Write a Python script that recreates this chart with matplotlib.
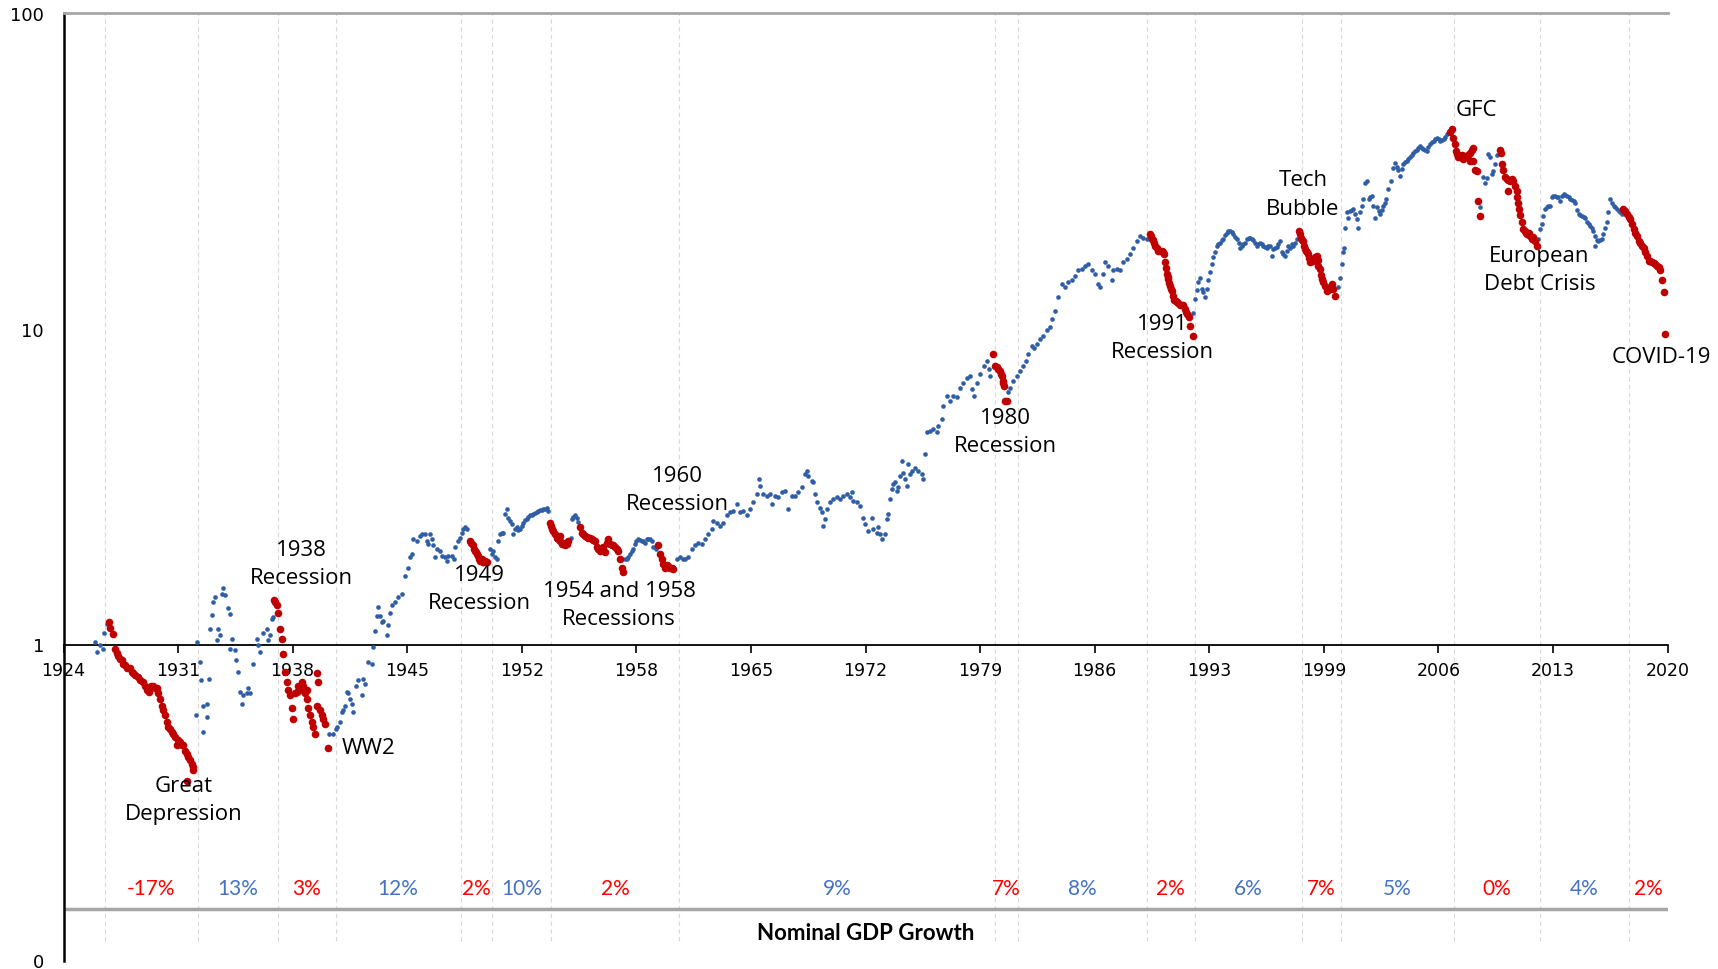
import matplotlib
matplotlib.use("Agg")
import matplotlib.pyplot as plt
import matplotlib.transforms as mtransforms
from matplotlib.ticker import NullLocator
import numpy as np

# (year, ratio) readings, split into expansion (blue) and recession (red) runs
blue_early = [
    (1925.89, 1.02), (1926.00, 0.95), (1926.18, 1.00), (1926.36, 0.97), (1926.42, 1.09), (1926.58, 1.16),
    (1931.93, 0.60), (1931.97, 1.02), (1932.17, 0.88), (1932.20, 0.77), (1932.37, 0.64), (1932.37, 0.53),
    (1932.57, 0.65), (1932.57, 0.59), (1932.73, 0.78), (1932.77, 1.12), (1932.87, 1.24), (1932.97, 1.36),
    (1933.07, 1.41), (1933.17, 1.03), (1933.27, 1.12), (1933.37, 1.07), (1933.47, 1.44), (1933.56, 1.51),
    (1933.67, 1.43), (1933.86, 1.30), (1933.97, 1.25), (1934.07, 1.04), (1933.97, 0.97), (1934.26, 0.96),
    (1934.32, 0.89), (1934.46, 0.82), (1934.56, 0.71), (1934.66, 0.65), (1934.76, 0.69), (1934.96, 0.70),
    (1935.06, 0.73), (1935.16, 0.70), (1935.32, 0.87), (1935.56, 1.04), (1935.66, 1.00), (1935.76, 0.95),
    (1935.96, 1.09), (1936.16, 1.12), (1936.26, 1.03), (1936.36, 1.07), (1936.46, 1.20), (1936.56, 1.22),
]
red_early = [
    (1926.74, 1.18), (1926.80, 1.13), (1926.98, 1.08), (1927.08, 0.97), (1927.18, 0.94), (1927.28, 0.92),
    (1927.38, 0.90), (1927.48, 0.89), (1927.58, 0.87), (1927.68, 0.86), (1927.80, 0.84), (1927.98, 0.84),
    (1928.08, 0.82), (1928.18, 0.81), (1928.30, 0.80), (1928.48, 0.79), (1928.60, 0.77), (1928.78, 0.76),
    (1928.90, 0.74), (1928.98, 0.72), (1929.10, 0.71), (1929.25, 0.74), (1929.37, 0.74), (1929.50, 0.73),
    (1929.58, 0.73), (1929.68, 0.70), (1929.78, 0.67), (1929.88, 0.64), (1929.97, 0.62), (1930.07, 0.60),
    (1930.17, 0.57), (1930.27, 0.55), (1930.38, 0.54), (1930.48, 0.53), (1930.58, 0.52), (1930.67, 0.51),
    (1930.78, 0.48), (1930.88, 0.50), (1930.97, 0.49), (1931.07, 0.48), (1931.17, 0.48), (1931.27, 0.46),
    (1931.37, 0.45), (1931.47, 0.44), (1931.57, 0.43), (1931.67, 0.42), (1931.77, 0.41), (1931.77, 0.40),
    (1931.37, 0.37),
    (1936.60, 1.38), (1936.68, 1.36), (1936.76, 1.33), (1936.86, 1.26), (1936.96, 1.12), (1937.06, 1.04),
    (1937.12, 0.93), (1937.26, 0.82), (1937.36, 0.76), (1937.45, 0.72), (1937.56, 0.69), (1937.66, 0.63),
    (1937.75, 0.58), (1937.86, 0.70), (1937.96, 0.71), (1938.05, 0.74), (1938.15, 0.72), (1938.25, 0.76),
    (1938.35, 0.74), (1938.45, 0.70), (1938.56, 0.72), (1938.56, 0.67), (1938.65, 0.63), (1938.75, 0.60),
    (1938.85, 0.57), (1938.95, 0.55), (1939.05, 0.52), (1939.15, 0.81), (1939.25, 0.76), (1939.15, 0.64),
    (1939.35, 0.62), (1939.45, 0.60), (1939.55, 0.58), (1939.65, 0.56), (1939.85, 0.47),
]
blue_mid = [
    (1939.91, 0.52), (1940.11, 0.52), (1940.31, 0.54), (1940.35, 0.55), (1940.55, 0.57), (1940.65, 0.61),
    (1940.75, 0.62), (1940.85, 0.64), (1940.95, 0.71), (1941.05, 0.70), (1941.15, 0.67), (1941.25, 0.65),
    (1941.35, 0.61), (1941.51, 0.74), (1941.64, 0.77), (1941.85, 0.69), (1941.94, 0.78), (1942.05, 0.75),
    (1942.24, 0.88), (1942.45, 0.87), (1942.54, 0.98), (1942.64, 1.10), (1942.74, 1.23), (1942.84, 1.31),
    (1942.94, 1.23), (1943.04, 1.18), (1943.14, 1.19), (1943.34, 1.07), (1943.44, 1.15), (1943.54, 1.26),
    (1943.64, 1.33), (1943.84, 1.36), (1944.04, 1.41), (1944.24, 1.44), (1944.44, 1.65), (1944.64, 1.75),
    (1944.74, 1.89), (1944.84, 1.93), (1944.94, 2.16), (1945.14, 2.13), (1945.34, 2.21), (1945.44, 2.24),
    (1945.64, 2.24), (1945.74, 2.13), (1945.83, 2.08), (1945.94, 2.24), (1946.04, 2.16), (1946.13, 2.06),
    (1946.24, 1.89), (1946.34, 2.00), (1946.53, 1.98), (1946.64, 1.91), (1946.83, 1.89), (1946.94, 1.84),
    (1947.03, 1.91), (1947.23, 1.91), (1947.37, 1.87), (1947.43, 2.03), (1947.63, 2.13), (1947.73, 2.18),
    (1947.83, 2.26), (1947.93, 2.32), (1948.03, 2.36), (1948.13, 2.32),
    (1949.53, 2.00), (1949.63, 1.93), (1949.72, 1.98), (1949.83, 1.89), (1949.93, 1.86), (1950.02, 2.13),
    (1950.13, 2.24), (1950.23, 2.26), (1950.32, 2.26), (1950.42, 2.59), (1950.52, 2.68), (1950.62, 2.52),
    (1950.72, 2.46), (1950.82, 2.41), (1950.92, 2.24), (1951.02, 2.32), (1951.12, 2.35), (1951.22, 2.30),
    (1951.32, 2.32), (1951.42, 2.38), (1951.52, 2.43), (1951.62, 2.47), (1951.72, 2.49), (1951.82, 2.53),
    (1951.92, 2.56), (1952.02, 2.57), (1952.12, 2.59), (1952.22, 2.60), (1952.32, 2.62), (1952.42, 2.64),
    (1952.52, 2.67), (1952.62, 2.66), (1952.72, 2.68), (1952.82, 2.69), (1952.92, 2.70), (1953.02, 2.65),
    (1954.36, 2.18), (1954.42, 2.49), (1954.52, 2.54), (1954.61, 2.56), (1954.72, 2.52), (1954.81, 2.45),
    (1957.61, 1.86), (1957.71, 1.87), (1957.81, 1.89), (1957.91, 1.93), (1958.01, 1.98), (1958.11, 2.00),
    (1958.20, 2.08), (1958.27, 2.13), (1958.40, 2.16), (1958.50, 2.14), (1958.61, 2.13), (1958.70, 2.12),
    (1958.80, 2.10), (1958.91, 2.16), (1959.00, 2.15), (1959.10, 2.16), (1959.20, 2.12), (1959.30, 2.03),
    (1959.46, 2.00),
]
red_mid = [
    (1948.33, 2.13), (1948.41, 2.09), (1948.49, 2.06), (1948.57, 2.00), (1948.63, 1.98), (1948.69, 1.96),
    (1948.76, 1.93), (1948.83, 1.91), (1948.88, 1.86), (1948.93, 1.84), (1949.03, 1.86), (1949.08, 1.83),
    (1949.13, 1.82), (1949.23, 1.84), (1949.33, 1.82),
    (1953.12, 2.43), (1953.17, 2.37), (1953.22, 2.32), (1953.32, 2.28), (1953.42, 2.24), (1953.52, 2.18),
    (1953.62, 2.15), (1953.72, 2.13), (1953.72, 2.20), (1953.82, 2.08), (1953.91, 2.10), (1954.02, 2.06),
    (1954.12, 2.08), (1954.21, 2.13),
    (1954.92, 2.35), (1955.02, 2.26), (1955.11, 2.23), (1955.21, 2.21), (1955.31, 2.19), (1955.41, 2.18),
    (1955.51, 2.17), (1955.61, 2.16), (1955.71, 2.14), (1955.81, 2.13), (1955.91, 2.03), (1956.01, 2.00),
    (1956.11, 1.98), (1956.21, 2.00), (1956.31, 2.03), (1956.41, 1.96), (1956.51, 2.10), (1956.61, 2.16),
    (1956.71, 2.08), (1956.81, 2.07), (1956.91, 2.06), (1957.01, 2.03), (1957.11, 2.00), (1957.21, 1.98),
    (1957.31, 1.86), (1957.41, 1.75), (1957.47, 1.69),
    (1959.60, 2.06), (1959.70, 1.93), (1959.80, 1.86), (1959.90, 1.80), (1960.00, 1.75), (1960.10, 1.78),
    (1960.20, 1.77), (1960.30, 1.74), (1960.40, 1.75), (1960.50, 1.73),
]
blue_late = [
    (1960.70, 1.86), (1960.90, 1.89), (1961.05, 1.87), (1961.20, 1.86), (1961.39, 1.89), (1961.60, 2.00),
    (1961.80, 2.06), (1961.99, 2.10), (1962.20, 2.08), (1962.39, 2.16), (1962.59, 2.24), (1962.80, 2.32),
    (1962.89, 2.46), (1963.09, 2.43), (1963.29, 2.38), (1963.49, 2.43), (1963.69, 2.56), (1963.89, 2.62),
    (1964.09, 2.65), (1964.29, 2.78), (1964.49, 2.62), (1964.69, 2.65), (1964.89, 2.56), (1965.09, 2.68),
    (1965.29, 2.82), (1965.49, 2.99), (1965.65, 3.34), (1965.69, 3.18), (1965.88, 2.99), (1966.09, 2.96),
    (1966.28, 2.99), (1966.39, 2.78), (1966.58, 2.96), (1966.78, 2.92), (1966.99, 3.03), (1967.18, 3.07),
    (1967.38, 2.68), (1967.58, 2.96), (1967.78, 2.96), (1967.98, 3.03), (1968.18, 3.14), (1968.38, 3.46),
    (1968.48, 3.54), (1968.58, 3.42), (1968.78, 3.30), (1968.88, 3.26), (1968.98, 2.99), (1969.08, 2.82),
    (1969.28, 2.71), (1969.38, 2.62), (1969.48, 2.38), (1969.58, 2.49), (1969.68, 2.68), (1969.87, 2.82),
    (1970.07, 2.88), (1970.28, 2.92), (1970.47, 2.88), (1970.67, 2.96), (1970.88, 2.99), (1971.07, 2.92),
    (1971.18, 3.03), (1971.27, 2.85), (1971.47, 2.82), (1971.67, 2.75), (1971.87, 2.52), (1971.97, 2.41),
    (1972.17, 2.29), (1972.37, 2.52), (1972.47, 2.32), (1972.67, 2.26), (1972.77, 2.35), (1972.87, 2.24),
    (1972.97, 2.16), (1973.17, 2.24), (1973.27, 2.49), (1973.37, 2.59), (1973.47, 2.88), (1973.57, 3.10),
    (1973.67, 3.22), (1973.77, 3.26), (1973.87, 3.07), (1973.96, 3.14), (1974.06, 3.42), (1974.16, 3.81),
    (1974.26, 3.50), (1974.36, 3.34), (1974.46, 3.18), (1974.56, 3.72), (1974.66, 3.46), (1974.77, 3.54),
    (1974.96, 3.63), (1975.16, 3.54), (1975.36, 3.46), (1975.46, 3.34), (1975.56, 4.00), (1975.66, 4.69),
    (1975.86, 4.75), (1976.06, 4.81), (1976.26, 4.69), (1976.36, 4.93), (1976.56, 5.17), (1976.66, 5.70),
    (1976.86, 6.13), (1977.06, 5.91), (1977.26, 6.13), (1977.46, 6.05), (1977.66, 6.50), (1977.86, 6.74),
    (1978.06, 6.99), (1978.26, 7.10), (1978.36, 6.43), (1978.50, 6.13), (1978.66, 6.74), (1978.86, 7.18),
    (1979.06, 7.60), (1979.26, 7.90), (1979.36, 7.45), (1979.46, 7.10),
    (1980.55, 6.30), (1980.65, 6.50), (1980.85, 6.83), (1981.05, 7.10), (1981.25, 7.35), (1981.45, 7.60),
    (1981.60, 7.90), (1981.75, 8.30), (1981.95, 8.83), (1982.10, 8.70), (1982.25, 8.94), (1982.45, 9.28),
    (1982.64, 9.50), (1982.85, 9.86), (1983.04, 10.1), (1983.14, 10.7), (1983.34, 11.4), (1983.54, 12.6),
    (1983.74, 13.8), (1983.94, 13.5), (1984.14, 14.0), (1984.34, 14.2), (1984.54, 14.7), (1984.74, 15.3),
    (1984.94, 15.4), (1985.14, 15.8), (1985.34, 16.0), (1985.54, 15.3), (1985.74, 14.9), (1985.93, 13.8),
    (1986.04, 13.5), (1986.23, 14.9), (1986.33, 16.2), (1986.53, 15.8), (1986.74, 14.2), (1986.83, 15.3),
    (1987.03, 15.4), (1987.23, 15.3), (1987.43, 16.2), (1987.63, 16.6), (1987.83, 17.2), (1988.03, 18.0),
    (1988.23, 18.9), (1988.43, 19.6), (1988.63, 19.4), (1988.83, 19.2),
    (1991.62, 11.2), (1991.72, 12.4), (1991.82, 13.2), (1991.92, 14.0), (1992.02, 14.5), (1992.12, 13.3),
    (1992.22, 13.0), (1992.32, 12.6), (1992.42, 13.3), (1992.52, 14.2), (1992.62, 15.1), (1992.72, 16.0),
    (1992.82, 16.8), (1992.92, 17.4), (1993.02, 18.3), (1993.12, 18.5), (1993.22, 18.7), (1993.32, 19.0),
    (1993.42, 19.2), (1993.52, 19.7), (1993.62, 20.1), (1993.72, 20.3), (1993.82, 20.4), (1993.92, 20.2),
    (1994.01, 19.9), (1994.12, 19.5), (1994.22, 19.2), (1994.32, 18.6), (1994.41, 18.0), (1994.51, 18.2),
    (1994.61, 18.5), (1994.71, 18.7), (1994.82, 19.2), (1994.92, 19.4), (1995.01, 19.4), (1995.11, 19.2),
    (1995.21, 19.0), (1995.31, 18.7), (1995.41, 18.3), (1995.51, 18.5), (1995.61, 18.7), (1995.71, 18.5),
    (1995.81, 18.3), (1995.91, 18.1), (1996.01, 18.0), (1996.11, 18.2), (1996.21, 18.3), (1996.31, 17.0),
    (1996.41, 17.8), (1996.51, 18.0), (1996.61, 18.1), (1996.71, 18.5), (1996.81, 18.9), (1996.91, 17.4),
    (1997.00, 17.2), (1997.10, 17.0), (1997.20, 17.6), (1997.30, 18.3), (1997.40, 18.0), (1997.51, 18.5),
    (1997.60, 18.3), (1997.70, 18.7), (1997.84, 19.2),
]
red_late = [
    (1979.65, 8.30), (1979.75, 7.60), (1979.85, 7.53), (1979.95, 7.45), (1980.05, 7.35), (1980.10, 7.20),
    (1980.15, 7.10), (1980.21, 6.83), (1980.25, 6.70), (1980.29, 6.60), (1980.35, 5.91), (1980.45, 5.91),
    (1989.03, 19.9), (1989.08, 19.6), (1989.13, 19.2), (1989.20, 19.0), (1989.27, 18.7), (1989.35, 18.3),
    (1989.43, 18.0), (1989.53, 17.6), (1989.63, 17.6), (1989.73, 17.6), (1989.80, 17.4), (1989.87, 17.2),
    (1989.93, 16.2), (1989.98, 15.5), (1990.03, 14.9), (1990.08, 14.6), (1990.13, 14.3), (1990.18, 13.9),
    (1990.23, 13.6), (1990.28, 13.3), (1990.33, 13.1), (1990.39, 12.7), (1990.47, 12.3), (1990.55, 12.2),
    (1990.63, 12.1), (1990.72, 12.0), (1990.82, 11.9), (1990.92, 11.9), (1991.02, 11.9), (1991.12, 11.5),
    (1991.20, 11.3), (1991.26, 11.1), (1991.38, 10.85), (1991.42, 10.2), (1991.58, 9.5),
    (1997.96, 20.4), (1998.02, 19.9), (1998.05, 19.4), (1998.11, 19.1), (1998.17, 18.9), (1998.25, 18.3),
    (1998.31, 17.9), (1998.37, 17.6), (1998.44, 17.4), (1998.50, 17.2), (1998.55, 16.7), (1998.61, 16.2),
    (1998.70, 16.3), (1998.80, 16.4), (1998.90, 16.8), (1999.01, 17.0), (1999.05, 16.5), (1999.10, 15.8),
    (1999.20, 15.4), (1999.25, 14.8), (1999.31, 14.3), (1999.40, 14.0), (1999.50, 13.6), (1999.60, 13.1),
    (1999.70, 13.2), (1999.80, 13.3), (1999.90, 13.8), (1999.95, 13.3), (2000.10, 12.7),
]
blue_recent = [
    (2000.29, 13.5), (2000.39, 14.5), (2000.49, 16.0), (2000.59, 17.4), (2000.63, 18.0), (2000.69, 20.8),
    (2000.80, 23.3), (2000.89, 22.4), (2000.99, 23.6), (2001.10, 23.7), (2001.20, 23.9), (2001.30, 23.0),
    (2001.40, 22.2), (2001.49, 20.8), (2001.60, 23.3), (2001.70, 24.5), (2001.80, 25.6), (2001.90, 28.8),
    (2002.00, 29.3), (2002.10, 25.6), (2002.20, 26.0), (2002.30, 26.3), (2002.39, 24.5), (2002.50, 22.4),
    (2002.60, 24.2), (2002.70, 23.5), (2002.79, 23.0), (2002.89, 23.8), (2002.99, 24.5), (2003.08, 25.0),
    (2003.15, 25.6), (2003.29, 27.6), (2003.43, 29.3), (2003.59, 32.3), (2003.69, 33.5), (2003.79, 32.5),
    (2003.89, 31.8), (2003.99, 30.3), (2004.09, 32.0), (2004.19, 33.2), (2004.29, 33.6), (2004.39, 34.0),
    (2004.49, 34.4), (2004.59, 34.8), (2004.69, 35.4), (2004.79, 36.0), (2004.89, 36.4), (2004.99, 36.8),
    (2005.09, 37.3), (2005.19, 37.8), (2005.29, 37.3), (2005.39, 37.0), (2005.49, 36.8), (2005.59, 36.5),
    (2005.69, 37.5), (2005.79, 38.3), (2005.89, 38.8), (2005.99, 39.3), (2006.09, 39.8), (2006.19, 40.2),
    (2006.29, 39.8), (2006.39, 39.3), (2006.49, 39.5), (2006.59, 39.8), (2006.69, 40.5), (2006.79, 41.2),
    (2006.89, 41.5),
    (2008.77, 24.2), (2008.93, 30.1), (2009.07, 28.8), (2009.17, 30.0), (2009.27, 35.6), (2009.37, 34.8),
    (2009.47, 30.9), (2009.57, 31.4), (2009.67, 33.2), (2009.77, 35.3),
    (2012.26, 19.2), (2012.37, 20.6), (2012.47, 21.4), (2012.57, 22.7), (2012.67, 23.9), (2012.77, 24.2),
    (2012.87, 24.4), (2012.97, 24.5), (2013.07, 26.0), (2013.17, 26.2), (2013.27, 26.3), (2013.37, 26.0),
    (2013.47, 26.0), (2013.57, 25.4), (2013.67, 26.2), (2013.77, 26.7), (2013.87, 26.5), (2013.97, 26.3),
    (2014.07, 26.0), (2014.17, 25.6), (2014.27, 25.5), (2014.37, 25.4), (2014.47, 24.9), (2014.57, 23.8),
    (2014.67, 23.0), (2014.77, 22.8), (2014.87, 22.7), (2014.97, 22.6), (2015.07, 22.4), (2015.17, 21.7),
    (2015.27, 21.4), (2015.37, 21.1), (2015.47, 20.8), (2015.56, 20.4), (2015.66, 19.6), (2015.66, 18.3),
    (2015.76, 19.0), (2015.86, 18.9), (2015.96, 19.0), (2016.06, 19.2), (2016.16, 19.9), (2016.26, 20.8),
    (2016.36, 21.7), (2016.46, 23.3), (2016.56, 25.6), (2016.67, 25.0), (2016.77, 24.5), (2016.87, 24.2),
    (2016.97, 23.9), (2017.07, 23.6), (2017.16, 23.3), (2017.26, 23.0),
]
red_recent = [
    (2007.00, 42.0), (2007.09, 42.7), (2007.18, 40.2), (2007.28, 38.3), (2007.33, 36.5), (2007.38, 35.6),
    (2007.48, 34.8), (2007.58, 35.0), (2007.68, 35.3), (2007.78, 34.3), (2007.88, 35.2), (2007.98, 35.0),
    (2008.08, 35.5), (2008.18, 36.0), (2008.28, 36.8), (2008.38, 37.3), (2008.18, 34.0), (2008.33, 34.0),
    (2008.48, 31.8), (2008.58, 31.4), (2008.67, 25.4), (2008.77, 22.7),
    (2009.97, 36.8), (2010.01, 36.0), (2010.07, 33.2), (2010.17, 31.8), (2010.27, 30.1), (2010.37, 29.8),
    (2010.47, 29.6), (2010.57, 29.3), (2010.67, 29.8), (2010.77, 29.2), (2010.47, 27.3), (2010.87, 28.3),
    (2010.97, 27.3), (2011.00, 26.0), (2011.06, 25.0), (2011.12, 23.9), (2011.19, 22.8), (2011.26, 21.7),
    (2011.36, 20.6), (2011.46, 20.4), (2011.53, 20.1), (2011.60, 19.9), (2011.68, 20.0), (2011.76, 19.6),
    (2011.86, 19.2), (2011.96, 19.5), (2012.06, 18.9), (2012.16, 18.3),
    (2017.36, 23.9), (2017.46, 23.5), (2017.57, 23.0), (2017.66, 22.6), (2017.76, 22.2), (2017.86, 21.4),
    (2017.96, 20.6), (2018.06, 20.1), (2018.16, 19.6), (2018.26, 18.9), (2018.36, 18.7), (2018.46, 18.3),
    (2018.56, 18.0), (2018.66, 17.4), (2018.76, 16.9), (2018.86, 16.4), (2018.96, 16.3), (2019.06, 16.2),
    (2019.16, 16.1), (2019.26, 16.0), (2019.36, 15.8), (2019.46, 15.6), (2019.56, 15.3), (2019.66, 14.2),
    (2019.76, 13.0), (2019.86, 9.6),
]

# period edges and nominal GDP growth for each period (recessions alternate, starting with the first)
period_edges = [1926.48, 1932.05, 1936.84, 1940.28, 1947.76, 1949.65, 1953.18, 1960.84, 1979.76,
                1981.12, 1988.85, 1991.69, 1998.12, 2000.47, 2007.20, 2012.35, 2017.68, 2020.0]
growth_labels = ["-17%", "13%", "3%", "12%", "2%", "10%", "2%", "9%", "7%",
                 "8%", "2%", "6%", "7%", "5%", "0%", "4%", "2%"]

x_tick_labels = ["1924", "1931", "1938", "1945", "1952", "1958", "1965", "1972",
                 "1979", "1986", "1993", "1999", "2006", "2013", "2020"]

# event annotations: text, year, ratio
events = [
    ("Great\nDepression", 1931.22, 0.323),
    ("1938\nRecession", 1938.23, 1.807),
    ("WW2", 1942.24, 0.473),
    ("1949\nRecession", 1948.92, 1.504),
    ("1954 and 1958\nRecessions", 1957.25, 1.335),
    ("1960\nRecession", 1960.73, 3.085),
    ("1980\nRecession", 1980.40, 4.73),
    ("1991\nRecession", 1989.78, 9.36),
    ("Tech\nBubble", 1998.17, 26.65),
    ("GFC", 2008.53, 49.3),
    ("European\nDebt Crisis", 2012.34, 15.36),
    ("COVID-19", 2019.62, 8.17),
]

BLUE = "#2F5DA6"
RED = "#C00000"

fig = plt.figure(figsize=(17.18, 9.70), dpi=100)
ax = fig.add_axes([63.5 / 1718, 8.5 / 970, 1604.1 / 1718, 948 / 970])
ax.set_yscale("log")
ax.set_xlim(1924, 2020)
ax.set_ylim(0.1, 100)

for pts in (blue_early, blue_mid, blue_late, blue_recent):
    xs, ys = zip(*pts)
    ax.scatter(xs, ys, s=11, color=BLUE, linewidths=0, zorder=3)
for pts in (red_early, red_mid, red_late, red_recent):
    xs, ys = zip(*pts)
    ax.scatter(xs, ys, s=30, color=RED, linewidths=0, zorder=4)

# period dividers and growth labels
ax.vlines(period_edges[:-1], 0.115, 100, colors="#D9D9D9", linestyles=(0, (4, 3)),
          linewidth=0.8, zorder=0)
ax.axhline(0.146, color="#A6A6A6", linewidth=2.5, zorder=1)
for i, lab in enumerate(growth_labels):
    mid = (period_edges[i] + period_edges[i + 1]) / 2
    col = "#FF0000" if i % 2 == 0 else "#4472C4"
    ax.text(mid, 0.169, lab, color=col, ha="center", va="center",
            fontsize=15, family="Lato")

trans = mtransforms.blended_transform_factory(ax.transAxes, ax.transData)
ax.text(0.5, 0.123, "Nominal GDP Growth", transform=trans, ha="center", va="center",
        fontsize=16, fontweight="bold", family="Lato")

for txt, x, y in events:
    ax.text(x, y, txt, ha="center", va="center", fontsize=16, family="Open Sans",
            linespacing=1.45, zorder=5)

# axes styling
ax.spines["right"].set_visible(False)
ax.spines["top"].set_color("#A6A6A6")
ax.spines["top"].set_linewidth(2)
ax.spines["left"].set_linewidth(1.8)
ax.spines["bottom"].set_position(("data", 1))
ax.spines["bottom"].set_linewidth(1.3)

ax.set_xticks(np.linspace(1924, 2020, len(x_tick_labels)))
ax.set_xticklabels(x_tick_labels)
ax.tick_params(axis="x", direction="out", length=6, width=1.2, pad=6, labelsize=12.5)
ax.set_yticks([0.1, 1, 10, 100])
ax.set_yticklabels(["0", "1", "10", "100"])
ax.yaxis.set_minor_locator(NullLocator())
ax.tick_params(axis="y", length=0, pad=14, labelsize=13)

fig.savefig("out.png", dpi=100)
